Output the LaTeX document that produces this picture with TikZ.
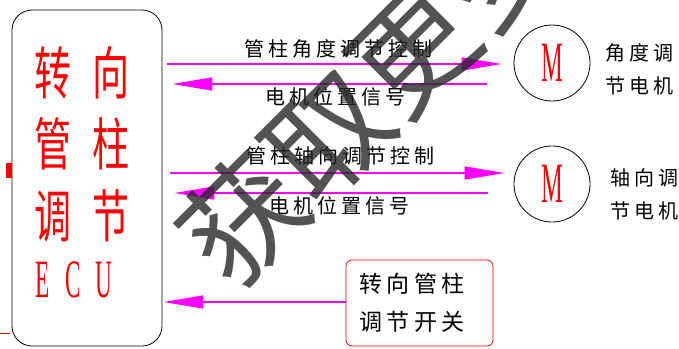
\documentclass[tikz,border=0pt]{standalone}
\usepackage{fontspec}
\usetikzlibrary{arrows.meta,positioning}
\newfontfamily\cjk[LetterSpace=20]{Noto Sans CJK SC}
\newfontfamily\cjkwide[FakeStretch=0.65]{Noto Sans CJK SC}
\newfontfamily\narrowserif[FakeStretch=0.43]{Liberation Serif}
\newfontfamily\markfont{Noto Sans CJK SC}
\definecolor{sigpink}{RGB}{255,0,255}
\definecolor{markgray}{RGB}{40,40,40}

\begin{document}
\begin{tikzpicture}[
  x=1pt, y=-1pt,
  sig/.style={draw=sigpink, line width=1.6pt, -{Triangle[length=40pt,width=13pt]}},
  lbl/.style={font=\cjk\fontsize{20}{24}\selectfont, inner sep=0pt},
  ecutxt/.style={font=\cjkwide\fontsize{57}{60}\selectfont, text=red, inner sep=0pt},
  motor/.style={circle, draw, thick, minimum size=76pt, inner sep=0pt, text=red,
    font=\narrowserif\fontsize{57}{60}\selectfont},
  mlbl/.style={font=\cjk\fontsize{20}{33}\selectfont, align=center, inner sep=0pt}
]
\useasboundingbox (0,0) rectangle (679,348);
\clip (0,0) rectangle (679,348);

% ECU
\node[draw, thick, rounded corners=20pt, minimum width=150pt, minimum height=336pt] (ecu) at (87,178) {};
\node[ecutxt] (rowA) at (82,73) {转\hspace{21pt}向};
\node[ecutxt] (rowB) at (82,144) {管\hspace{21pt}柱};
\node[ecutxt] (rowC) at (82,216) {调\hspace{21pt}节};
\node[text=red, font=\narrowserif\fontsize{54}{56}\selectfont, inner sep=0pt] (rowD) at (74,280) {E\hspace{16pt}C\hspace{15pt}U};
\fill[red] (6,163) rectangle (12,178);
\draw[red, thick] (0,333) -- (10,333);

% motors
\node[motor] (motorA) at (552,63) {M};
\node[motor] (motorB) at (552,184) {M};
\node[mlbl, right=15pt of motorA, yshift=-6pt] (mtxtA) {角度调\\节电机};
\node[mlbl, right=20pt of motorB, yshift=-10pt] (mtxtB) {轴向调\\节电机};

% switch
\node[draw=red, thick, rounded corners=6pt, minimum width=147pt, minimum height=86pt] (switch) at (419.5,303) {};
\node[font=\cjk\fontsize{23}{38}\selectfont, align=center, inner sep=0pt] (swtxt) at (412,303) {转向管柱\\调节开关};

% signals
\draw[sig, shorten <=5pt, shorten >=12pt] (ecu.east |- 0,64) -- (motorA.west |- 0,64);
\draw[sig, shorten <=27pt, shorten >=10pt] (motorA.west |- 0,84) -- (ecu.east |- 0,84);
\draw[sig, shorten <=8pt, shorten >=9pt] (ecu.east |- 0,173) -- (motorB.west |- 0,173);
\draw[sig, shorten <=26pt, shorten >=12pt] (motorB.west |- 0,193) -- (ecu.east |- 0,193);
\draw[sig, shorten >=1pt] (switch.west |- 0,302) -- (ecu.east |- 0,302);
\node[lbl] (ctlA) at (338,49) {管柱角度调节控制};
\node[lbl] (posA) at (335,97) {电机位置信号};
\node[lbl] (ctlB) at (340,156) {管柱轴向调节控制};
\node[lbl] (posB) at (339,206) {电机位置信号};

% watermark
\node[font=\markfont\fontsize{120}{124}\selectfont, text=markgray, text opacity=0.8, rotate=45, inner sep=0pt] (mark) at (370,92) {获取更多};
\end{tikzpicture}
\end{document}
